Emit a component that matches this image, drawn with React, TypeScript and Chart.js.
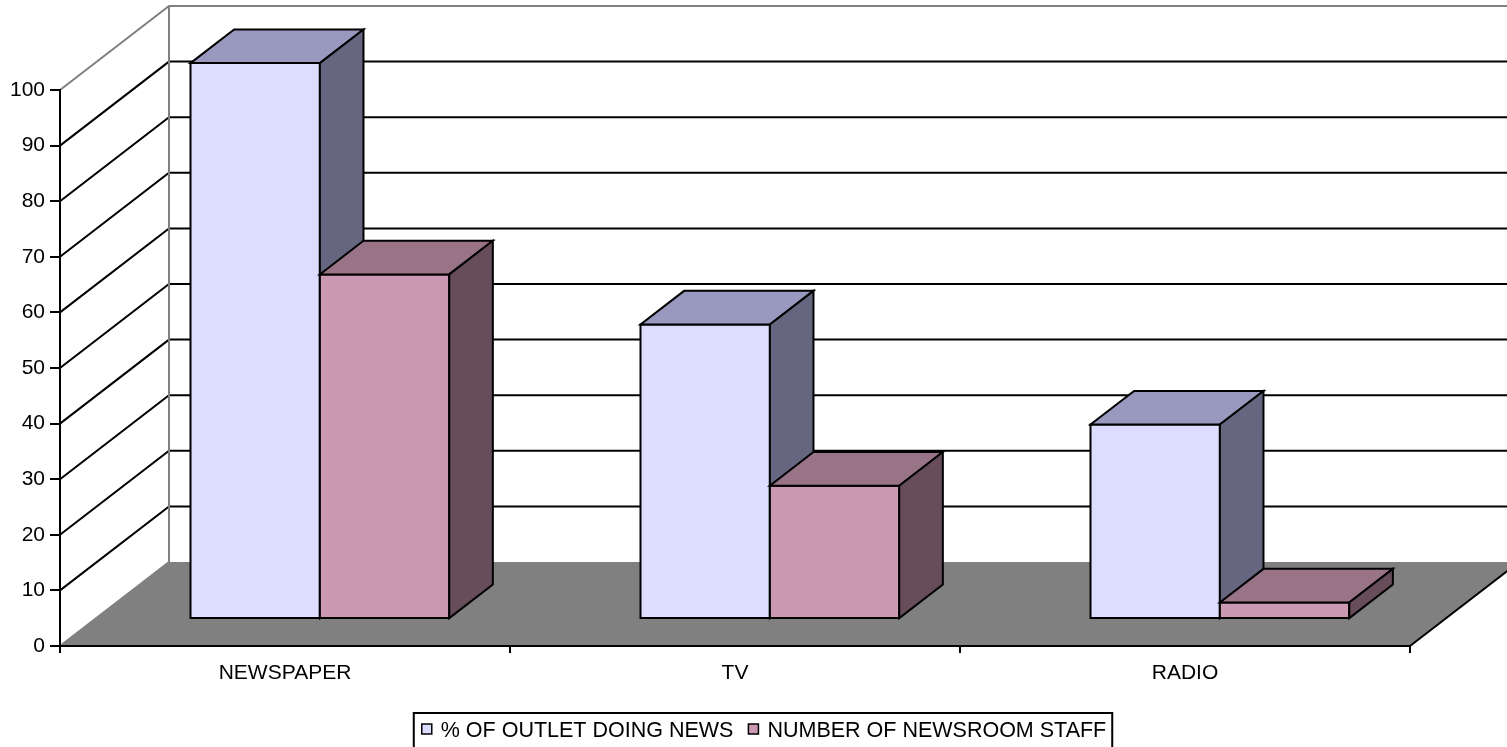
import { useEffect, useRef } from "react";
import { Chart, registerables } from "chart.js";

Chart.register(...registerables);

// Media outlets surveyed
const categories = ["NEWSPAPER", "TV", "RADIO"];
// Series values per outlet type
const outletDoingNews = [100, 53, 35];
const newsroomStaff = [62, 24, 3];
const seriesLabels = ["% OF OUTLET DOING NEWS", "NUMBER OF NEWSROOM STAFF"];
// Value axis
const yMin = 0;
const yMax = 100;
const yStep = 10;

const FONT = '"Liberation Sans", Arial, Helvetica, sans-serif';
const FONT_SIZE = 21;
const LEGEND_FONT_SIZE = 21.5;

// Oblique offset from the front plane to the back wall
const DEPTH_X = 109;
const DEPTH_Y = -84;
// Slice of the depth taken by the columns (0 = front, 1 = back)
const BAR_FRONT = 0.32;
const BAR_BACK = 0.72;

const shades = [
  { front: "#DDDDFF", top: "#9999C0", side: "#666680" },
  { front: "#CC99B3", top: "#997386", side: "#664D59" },
];

const FRAME_GREY = "#808080";

// Walls, gridlines and floor of the 3-D box, painted under the axes
const plotBox = {
  id: "plotBox",
  beforeDraw(chart: any) {
    const { ctx, chartArea, width } = chart;
    const yScale = chart.scales.y;
    const L = chartArea.left;
    const R = chartArea.right;
    const B = yScale.getPixelForValue(yMin);
    const T = yScale.getPixelForValue(yMax);
    ctx.save();

    // floor
    ctx.fillStyle = FRAME_GREY;
    ctx.beginPath();
    ctx.moveTo(L, B);
    ctx.lineTo(R, B);
    ctx.lineTo(R + DEPTH_X, B + DEPTH_Y);
    ctx.lineTo(L + DEPTH_X, B + DEPTH_Y);
    ctx.closePath();
    ctx.fill();

    ctx.lineWidth = 2;
    ctx.lineJoin = "miter";

    // gridlines running along the side wall and across the back wall
    ctx.strokeStyle = "#000000";
    yScale.ticks.forEach((t: any) => {
      if (t.value <= yMin || t.value >= yMax) return;
      const py = yScale.getPixelForValue(t.value);
      ctx.beginPath();
      ctx.moveTo(L, py);
      ctx.lineTo(L + DEPTH_X, py + DEPTH_Y);
      ctx.lineTo(width, py + DEPTH_Y);
      ctx.stroke();
    });

    // outer edges of the walls
    ctx.strokeStyle = FRAME_GREY;
    ctx.beginPath();
    ctx.moveTo(L, T);
    ctx.lineTo(L + DEPTH_X, T + DEPTH_Y);
    ctx.lineTo(width, T + DEPTH_Y);
    ctx.moveTo(L + DEPTH_X, T + DEPTH_Y);
    ctx.lineTo(L + DEPTH_X, B + DEPTH_Y);
    ctx.moveTo(L, B);
    ctx.lineTo(L + DEPTH_X, B + DEPTH_Y);
    ctx.stroke();

    // right edge of the floor
    ctx.strokeStyle = "#000000";
    ctx.beginPath();
    ctx.moveTo(R, B);
    ctx.lineTo(R + DEPTH_X, B + DEPTH_Y);
    ctx.stroke();

    ctx.restore();
  },
};

// Columns drawn as boxes from the bar elements laid out by the chart
const columns3d = {
  id: "columns3d",
  beforeDatasetsDraw(chart: any) {
    const { ctx } = chart;
    const fdx = DEPTH_X * BAR_FRONT;
    const fdy = DEPTH_Y * BAR_FRONT;
    const bdx = DEPTH_X * (BAR_BACK - BAR_FRONT);
    const bdy = DEPTH_Y * (BAR_BACK - BAR_FRONT);
    ctx.save();
    ctx.lineWidth = 2;
    ctx.lineJoin = "miter";
    ctx.strokeStyle = "#000000";
    const nCat = chart.data.labels.length;
    for (let i = 0; i < nCat; i++) {
      chart.data.datasets.forEach((_ds: any, di: number) => {
        const el = chart.getDatasetMeta(di).data[i];
        if (!el) return;
        const { x, y, base, width } = el.getProps(["x", "y", "base", "width"], true);
        const c = shades[di % shades.length];
        const x0 = x - width / 2 + fdx;
        const x1 = x + width / 2 + fdx;
        const yt = y + fdy;
        const yb = base + fdy;

        const face = (pts: number[][], fill: string) => {
          ctx.beginPath();
          ctx.moveTo(pts[0][0], pts[0][1]);
          for (let k = 1; k < pts.length; k++) ctx.lineTo(pts[k][0], pts[k][1]);
          ctx.closePath();
          ctx.fillStyle = fill;
          ctx.fill();
          ctx.stroke();
        };

        face([[x0, yt], [x1, yt], [x1, yb], [x0, yb]], c.front);
        face([[x0, yt], [x1, yt], [x1 + bdx, yt + bdy], [x0 + bdx, yt + bdy]], c.top);
        face([[x1, yt], [x1 + bdx, yt + bdy], [x1 + bdx, yb + bdy], [x1, yb]], c.side);
      });
    }
    ctx.restore();
    return false;
  },
};

// Boxed legend under the axis
const LEGEND_CENTER_X = 763;
const LEGEND_TOP = 713;
const legendBox = {
  id: "legendBox",
  afterDraw(chart: any) {
    const { ctx, height } = chart;
    const marker = 10;
    const markerGap = 9;
    const itemGap = 15;
    const padL = 8;
    const padR = 6;
    ctx.save();
    ctx.font = `${LEGEND_FONT_SIZE}px ${FONT}`;
    const items = chart.data.datasets.map((ds: any, di: number) => ({
      label: ds.label as string,
      color: shades[di % shades.length].front,
      w: ctx.measureText(ds.label).width,
    }));
    const contentW =
      items.reduce((s: number, it: any) => s + marker + markerGap + it.w, 0) +
      itemGap * (items.length - 1);
    const boxW = padL + contentW + padR;
    const left = LEGEND_CENTER_X - boxW / 2;
    const midY = LEGEND_TOP + 17;

    ctx.lineWidth = 2;
    ctx.strokeStyle = "#000000";
    ctx.strokeRect(left, LEGEND_TOP, boxW, height - LEGEND_TOP + 10);

    let cx = left + padL;
    ctx.textBaseline = "middle";
    ctx.textAlign = "left";
    items.forEach((it: any) => {
      ctx.fillStyle = it.color;
      ctx.fillRect(cx, midY - marker / 2 - 1, marker, marker);
      ctx.lineWidth = 1.5;
      ctx.strokeRect(cx, midY - marker / 2 - 1, marker, marker);
      cx += marker + markerGap;
      ctx.fillStyle = "#000000";
      ctx.fillText(it.label, cx, midY + 1);
      cx += it.w + itemGap;
    });
    ctx.restore();
  },
};

export default function App() {
  const canvasRef = useRef<HTMLCanvasElement | null>(null);

  useEffect(() => {
    const canvas = canvasRef.current;
    if (!canvas) return;
    const tickFont = { family: FONT, size: FONT_SIZE };
    const chart = new Chart(canvas, {
      type: "bar",
      data: {
        labels: categories,
        datasets: [
          {
            label: seriesLabels[0],
            data: outletDoingNews,
            backgroundColor: shades[0].front,
          },
          {
            label: seriesLabels[1],
            data: newsroomStaff,
            backgroundColor: shades[1].front,
          },
        ],
      },
      options: {
        animation: false,
        responsive: false,
        devicePixelRatio: 1,
        events: [],
        layout: { padding: { top: 90, right: 97, left: 0, bottom: 0 } },
        datasets: { bar: { barPercentage: 1, categoryPercentage: 0.575 } },
        plugins: {
          legend: { display: false },
          tooltip: { enabled: false },
        },
        scales: {
          x: {
            grid: {
              offset: true,
              drawOnChartArea: false,
              tickLength: 7,
              color: "#000000",
              lineWidth: 2,
            },
            border: { display: true, color: "#000000", width: 2 },
            ticks: { color: "#000000", font: tickFont, padding: 8, maxRotation: 0 },
            afterFit: (s: any) => {
              s.height = 101;
            },
          },
          y: {
            min: yMin,
            max: yMax,
            ticks: { stepSize: yStep, color: "#000000", font: tickFont, padding: 5 },
            grid: {
              drawOnChartArea: false,
              tickLength: 10,
              color: "#000000",
              lineWidth: 2,
            },
            border: { display: true, color: "#000000", width: 2 },
            afterFit: (s: any) => {
              s.width = 60;
            },
          },
        },
      },
      plugins: [plotBox, columns3d, legendBox],
    });
    return () => chart.destroy();
  }, []);

  return (
    <div style={{ position: "absolute", left: 0, top: 0, width: 1507, height: 747, background: "#ffffff" }}>
      <canvas ref={canvasRef} width={1507} height={747} style={{ display: "block", width: 1507, height: 747 }} />
    </div>
  );
}
